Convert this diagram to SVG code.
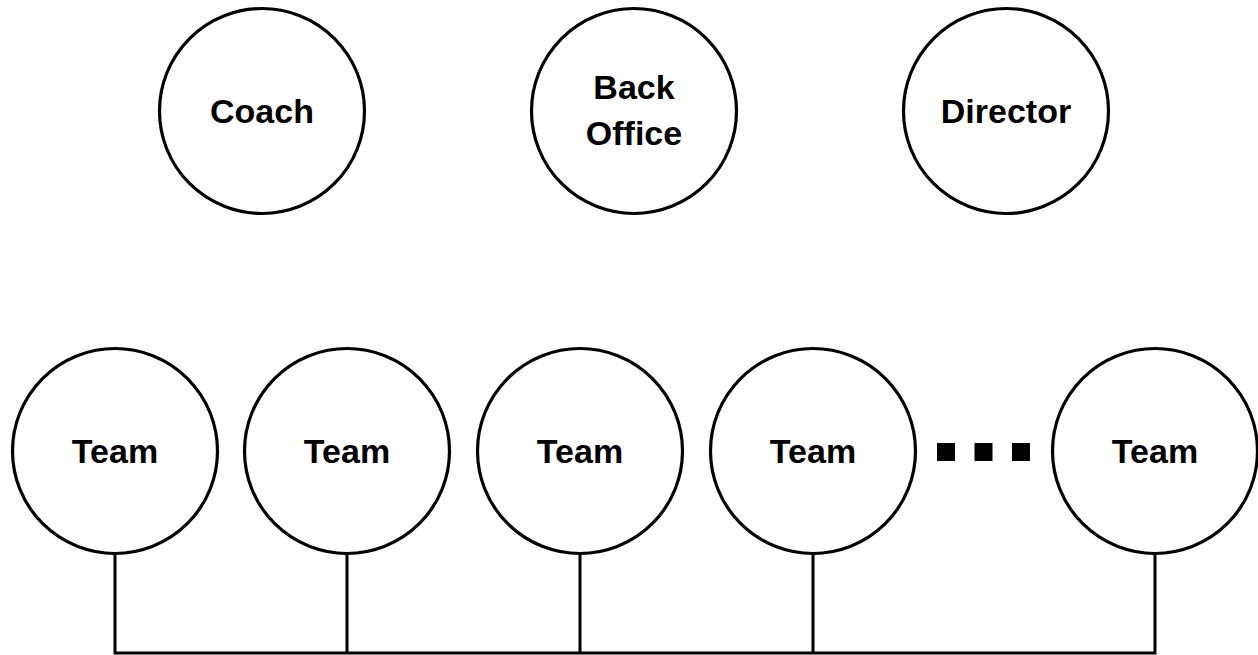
<svg xmlns="http://www.w3.org/2000/svg" width="1258" height="655" viewBox="0 0 1258 655">
<style>
.n{fill:#fff;stroke:#000;stroke-width:3.2}
.t{font-family:"Liberation Sans",Arial,sans-serif;font-weight:bold;font-size:34px;fill:#000;text-anchor:middle}
.c{fill:none;stroke:#000;stroke-width:3}
</style>
<rect width="1258" height="655" fill="#fff"/>
<g id="connectors">
<path class="c" d="M115 554V653M347 554V653M580 554V653M813 554V653M1155 554V653M113.5 653H1156.5"/>
</g>
<g id="coach"><circle class="n" cx="262" cy="111" r="102.5"/><text class="t" x="262" y="123">Coach</text></g>
<g id="backoffice"><circle class="n" cx="634" cy="111" r="102.5"/><text class="t" x="634" y="99">Back</text><text class="t" x="634" y="145">Office</text></g>
<g id="director"><circle class="n" cx="1006" cy="111" r="102.5"/><text class="t" x="1006" y="123">Director</text></g>
<g id="team1"><circle class="n" cx="115" cy="451" r="102.5"/><text class="t" x="115" y="463">Team</text></g>
<g id="team2"><circle class="n" cx="347" cy="451" r="102.5"/><text class="t" x="347" y="463">Team</text></g>
<g id="team3"><circle class="n" cx="580" cy="451" r="102.5"/><text class="t" x="580" y="463">Team</text></g>
<g id="team4"><circle class="n" cx="813" cy="451" r="102.5"/><text class="t" x="813" y="463">Team</text></g>
<g id="ellipsis"><rect x="937" y="443" width="18" height="18"/><rect x="974.5" y="443" width="18" height="18"/><rect x="1012" y="443" width="18" height="18"/></g>
<g id="team5"><circle class="n" cx="1155" cy="451" r="102.5"/><text class="t" x="1155" y="463">Team</text></g>
</svg>
